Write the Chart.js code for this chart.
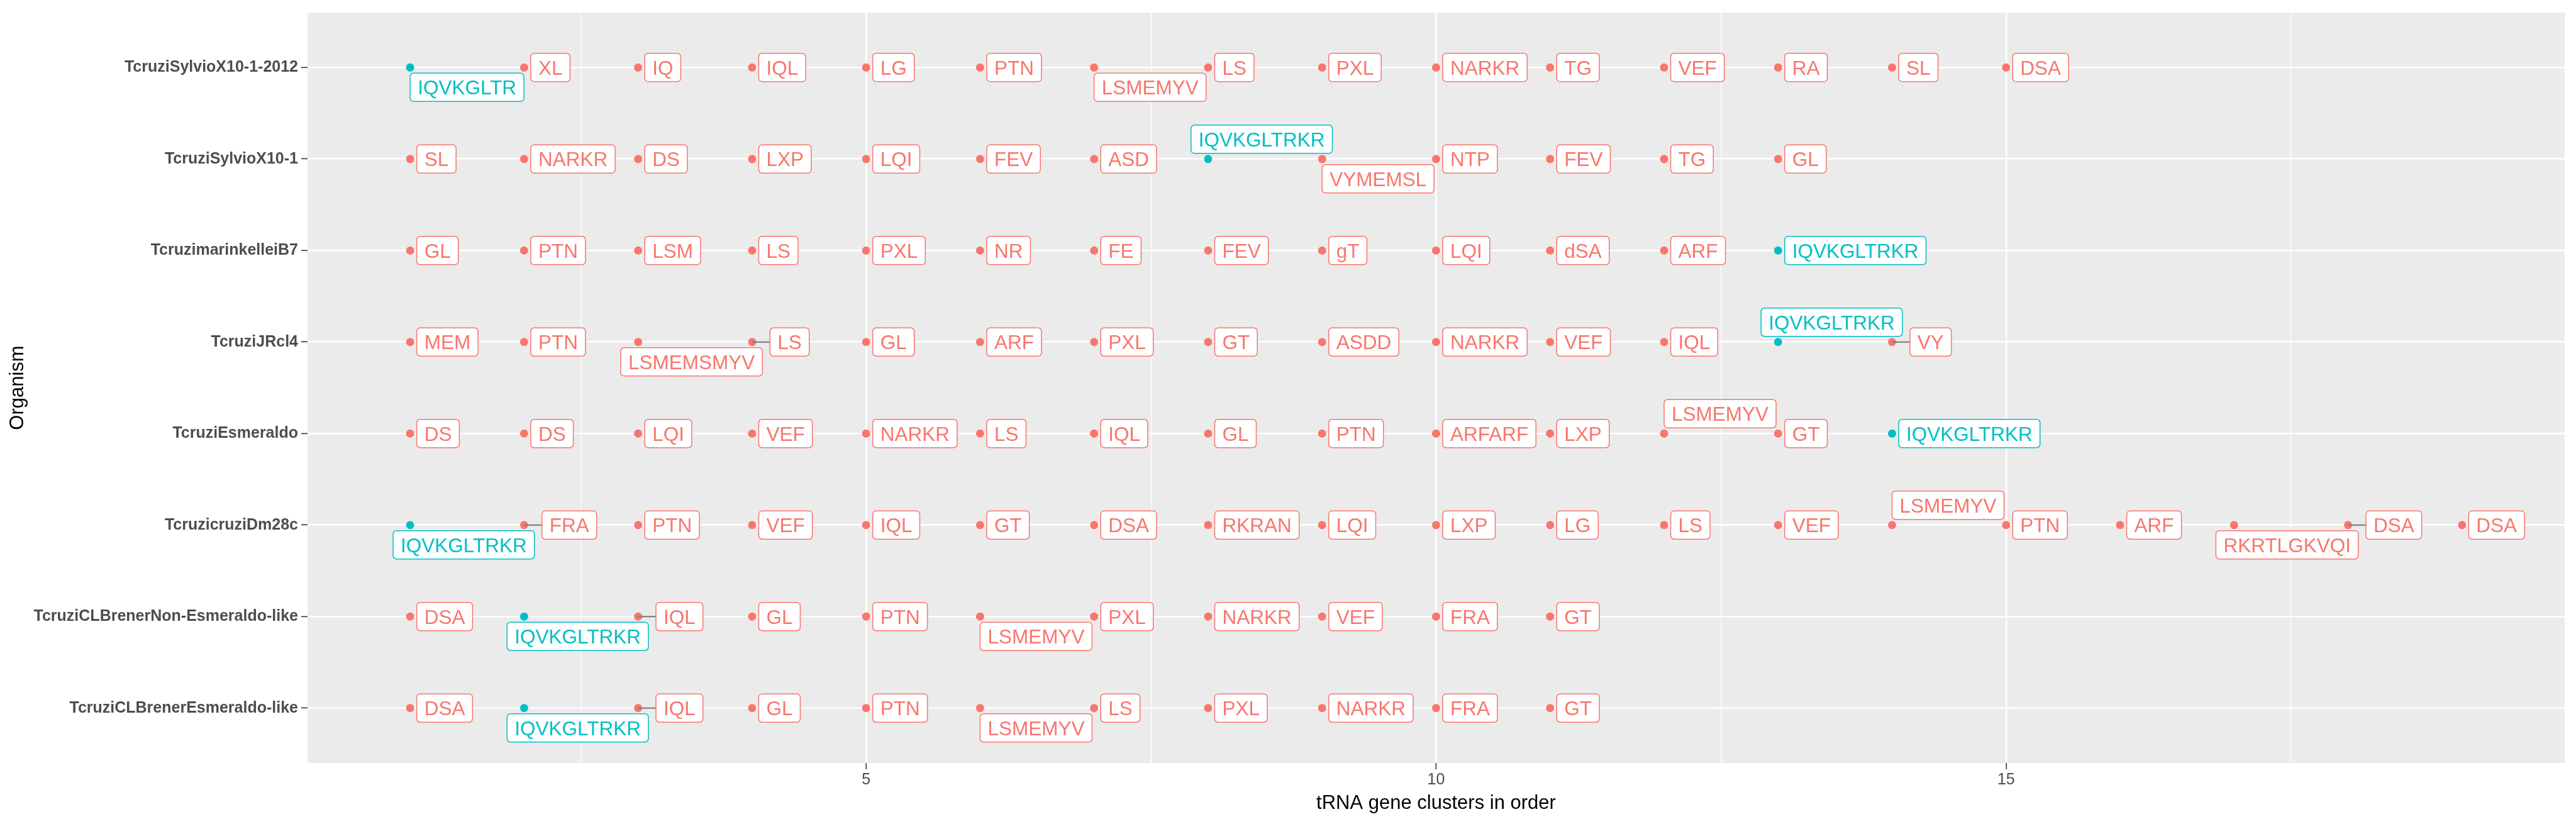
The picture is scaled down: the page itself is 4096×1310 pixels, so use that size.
<!DOCTYPE html>
<html>
<head>
<meta charset="utf-8">
<script src="https://cdn.jsdelivr.net/npm/chart.js@4.4.1/dist/chart.umd.min.js"></script>
<style>
  html, body { margin: 0; padding: 0; background: #fff; }
  #wrap { width: 4096px; height: 1310px; }
</style>
</head>
<body>
<div id="wrap"><canvas id="chart"></canvas></div>
<script>
// organismes de haut en bas
const organisms = [
  'TcruziSylvioX10-1-2012',
  'TcruziSylvioX10-1',
  'TcruzimarinkelleiB7',
  'TcruziJRcl4',
  'TcruziEsmeraldo',
  'TcruzicruziDm28c',
  'TcruziCLBrenerNon-Esmeraldo-like',
  'TcruziCLBrenerEsmeraldo-like'
];

// clusters d'ARNt dans l'ordre, par organisme
const sylvio2012 = ['IQVKGLTR', 'XL', 'IQ', 'IQL', 'LG', 'PTN', 'LSMEMYV', 'LS', 'PXL', 'NARKR', 'TG', 'VEF', 'RA', 'SL', 'DSA'];
const sylvio = ['SL', 'NARKR', 'DS', 'LXP', 'LQI', 'FEV', 'ASD', 'IQVKGLTRKR', 'VYMEMSL', 'NTP', 'FEV', 'TG', 'GL'];
const marinkellei = ['GL', 'PTN', 'LSM', 'LS', 'PXL', 'NR', 'FE', 'FEV', 'gT', 'LQI', 'dSA', 'ARF', 'IQVKGLTRKR'];
const jrcl4 = ['MEM', 'PTN', 'LSMEMSMYV', 'LS', 'GL', 'ARF', 'PXL', 'GT', 'ASDD', 'NARKR', 'VEF', 'IQL', 'IQVKGLTRKR', 'VY'];
const esmeraldo = ['DS', 'DS', 'LQI', 'VEF', 'NARKR', 'LS', 'IQL', 'GL', 'PTN', 'ARFARF', 'LXP', 'LSMEMYV', 'GT', 'IQVKGLTRKR'];
const dm28c = ['IQVKGLTRKR', 'FRA', 'PTN', 'VEF', 'IQL', 'GT', 'DSA', 'RKRAN', 'LQI', 'LXP', 'LG', 'LS', 'VEF', 'LSMEMYV', 'PTN', 'ARF', 'RKRTLGKVQI', 'DSA', 'DSA'];
const clBrenerNonEsm = ['DSA', 'IQVKGLTRKR', 'IQL', 'GL', 'PTN', 'LSMEMYV', 'PXL', 'NARKR', 'VEF', 'FRA', 'GT'];
const clBrenerEsm = ['DSA', 'IQVKGLTRKR', 'IQL', 'GL', 'PTN', 'LSMEMYV', 'LS', 'PXL', 'NARKR', 'FRA', 'GT'];

const clusters = [sylvio2012, sylvio, marinkellei, jrcl4, esmeraldo, dm28c, clBrenerNonEsm, clBrenerEsm];

const xMajorTicks = [5, 10, 15];
const xMinorTicks = [2.5, 7.5, 12.5, 17.5];

// côté choisi par le "repel" pour les étiquettes qui ne tiennent pas à droite
const labelSide = {
  'TcruziSylvioX10-1-2012': { 1: 'below', 7: 'below' },
  'TcruziSylvioX10-1': { 8: 'above', 9: 'below' },
  'TcruziJRcl4': { 3: 'below', 13: 'above' },
  'TcruziEsmeraldo': { 12: 'above' },
  'TcruzicruziDm28c': { 1: 'below', 14: 'above', 17: 'below' },
  'TcruziCLBrenerNon-Esmeraldo-like': { 2: 'below', 6: 'below' },
  'TcruziCLBrenerEsmeraldo-like': { 2: 'below', 6: 'below' }
};

const RED = '#F8766D';
const CYAN = '#00BFC4';
const isMarker = (name) => name.startsWith('IQVKGLTR');

const redPoints = [];
const cyanPoints = [];
clusters.forEach((row, r) => {
  row.forEach((name, i) => {
    (isMarker(name) ? cyanPoints : redPoints).push({ x: i + 1, y: r, name });
  });
});

const LABEL_FONT = '31.5px "Liberation Sans", Arial, sans-serif';
const PAD_X = 12;
const BOX_H = 45;
const GAP = 9;

function overlaps(a, b) {
  return a.left < b.left + b.w && b.left < a.left + a.w &&
         a.top < b.top + BOX_H && b.top < a.top + BOX_H;
}

function roundRect(ctx, x, y, w, h, r) {
  ctx.beginPath();
  ctx.moveTo(x + r, y);
  ctx.lineTo(x + w - r, y);
  ctx.arcTo(x + w, y, x + w, y + r, r);
  ctx.lineTo(x + w, y + h - r);
  ctx.arcTo(x + w, y + h, x + w - r, y + h, r);
  ctx.lineTo(x + r, y + h);
  ctx.arcTo(x, y + h, x, y + h - r, r);
  ctx.lineTo(x, y + r);
  ctx.arcTo(x, y, x + r, y, r);
  ctx.closePath();
}

const panelBg = {
  id: 'panelBg',
  beforeDraw(chart) {
    const { ctx, chartArea: a } = chart;
    ctx.save();
    ctx.fillStyle = '#EBEBEB';
    ctx.fillRect(a.left, a.top, a.right - a.left, a.bottom - a.top);
    ctx.restore();
  }
};

const repelLabels = {
  id: 'repelLabels',
  afterDatasetsDraw(chart) {
    const { ctx, scales: { x, y } } = chart;
    const unit = x.getPixelForValue(2) - x.getPixelForValue(1);
    ctx.save();
    ctx.font = LABEL_FONT;
    organisms.forEach((org, r) => {
      const py = y.getPixelForValue(r);
      const hints = labelSide[org] || {};
      const items = clusters[r].map((name, i) => ({
        name,
        px: x.getPixelForValue(i + 1),
        w: ctx.measureText(name).width + 2 * PAD_X,
        side: hints[i + 1] || 'right',
        color: isMarker(name) ? CYAN : RED
      }));
      const placed = [];
      items.filter(it => it.side !== 'right').forEach(it => {
        it.left = it.px - Math.max(0, it.w - 1.09 * unit);
        it.top = it.side === 'below' ? py + GAP : py - GAP - BOX_H;
        placed.push(it);
      });
      items.filter(it => it.side === 'right').forEach(it => {
        it.left = it.px + 10.5;
        it.top = py - BOX_H / 2;
        let hit;
        while ((hit = placed.find(o => overlaps(o, it)))) it.left = hit.left + hit.w + 12;
        placed.push(it);
      });

      // segments
      ctx.strokeStyle = '#7F7F7F';
      ctx.lineWidth = 2.3;
      placed.forEach(it => {
        if (it.side === 'right' && it.left - it.px > 20) {
          ctx.beginPath();
          ctx.moveTo(it.px, py);
          ctx.lineTo(it.left, py);
          ctx.stroke();
        }
      });

      // boîtes
      placed.forEach(it => {
        roundRect(ctx, it.left, it.top, it.w, BOX_H, 5.5);
        ctx.fillStyle = '#FFFFFF';
        ctx.fill();
        ctx.lineWidth = 1.5;
        ctx.strokeStyle = it.color;
        ctx.stroke();
        ctx.fillStyle = it.color;
        ctx.textAlign = 'left';
        ctx.textBaseline = 'alphabetic';
        ctx.fillText(it.name, it.left + PAD_X, it.top + BOX_H / 2 + 11.5);
      });
    });
    ctx.restore();
  }
};

new Chart(document.getElementById('chart'), {
  type: 'scatter',
  data: {
    datasets: [
      { label: 'other', data: redPoints, backgroundColor: RED, borderWidth: 0, pointRadius: 6.5, pointHoverRadius: 6.5 },
      { label: 'IQVKGLTR', data: cyanPoints, backgroundColor: CYAN, borderWidth: 0, pointRadius: 6.5, pointHoverRadius: 6.5 }
    ]
  },
  options: {
    responsive: true,
    maintainAspectRatio: false,
    animation: false,
    devicePixelRatio: 1,
    layout: { padding: { top: 15, right: 18, left: 0, bottom: 0 } },
    plugins: { legend: { display: false }, tooltip: { enabled: false } },
    scales: {
      x: {
        type: 'linear',
        min: 0.1,
        max: 19.9,
        afterBuildTicks: (scale) => {
          scale.ticks = [...xMinorTicks, ...xMajorTicks].sort((a, b) => a - b).map(v => ({ value: v }));
        },
        afterFit: (scale) => { scale.height = 97; },
        ticks: {
          autoSkip: false,
          maxRotation: 0,
          padding: 2,
          color: '#4D4D4D',
          font: { family: '"Liberation Sans", Arial, sans-serif', size: 25 },
          callback: (v) => xMajorTicks.includes(v) ? String(v) : ''
        },
        grid: {
          color: '#FFFFFF',
          lineWidth: (c) => xMajorTicks.includes(c.tick && c.tick.value) ? 2.6 : 1.3,
          tickColor: (c) => xMajorTicks.includes(c.tick && c.tick.value) ? '#333333' : 'rgba(0,0,0,0)',
          tickWidth: 1.6,
          tickLength: 10
        },
        border: { display: false },
        title: {
          display: true,
          text: 'tRNA gene clusters in order',
          color: '#000000',
          font: { family: '"Liberation Sans", Arial, sans-serif', size: 31 },
          padding: { top: 0, bottom: 14 }
        }
      },
      y: {
        type: 'linear',
        min: -0.6,
        max: 7.6,
        reverse: true,
        afterBuildTicks: (scale) => {
          scale.ticks = organisms.map((_, i) => ({ value: i }));
        },
        afterFit: (scale) => { scale.width = 489; },
        ticks: {
          autoSkip: false,
          padding: 5,
          color: '#4D4D4D',
          font: { family: '"Liberation Sans", Arial, sans-serif', size: 25, weight: 'bold' },
          callback: (v) => organisms[v]
        },
        grid: {
          color: '#FFFFFF',
          lineWidth: 2.6,
          tickColor: '#333333',
          tickWidth: 1.6,
          tickLength: 10
        },
        border: { display: false },
        title: {
          display: true,
          text: 'Organism',
          color: '#000000',
          font: { family: '"Liberation Sans", Arial, sans-serif', size: 31 },
          padding: { top: 10, bottom: 0 }
        }
      }
    }
  },
  plugins: [panelBg, repelLabels]
});
</script>
</body>
</html>
